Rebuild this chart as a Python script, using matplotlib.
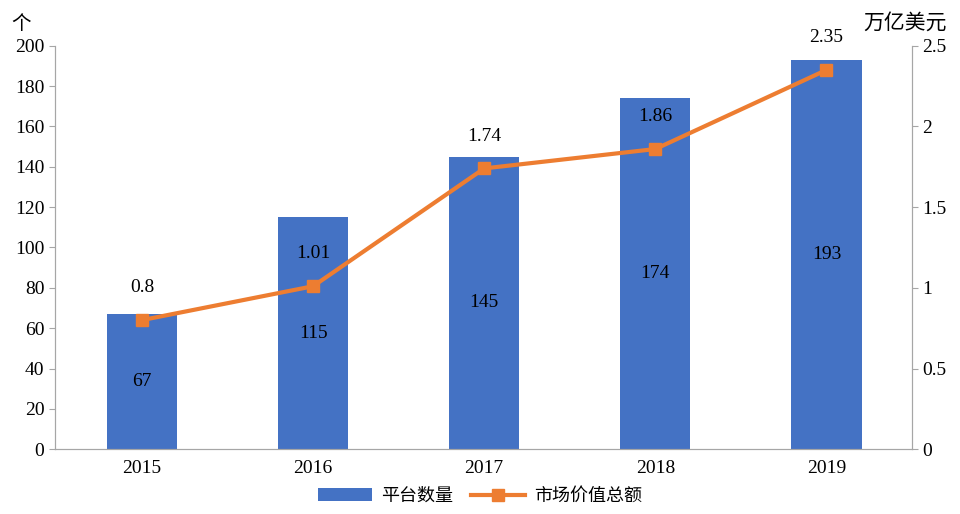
import matplotlib.pyplot as plt
import numpy as np

years = ["2015", "2016", "2017", "2018", "2019"]
platforms = [67, 115, 145, 174, 193]
market_value = [0.8, 1.01, 1.74, 1.86, 2.35]

serif = "Liberation Serif"
cjk = ["Noto Sans CJK SC", "DejaVu Sans"]

fig = plt.figure(figsize=(9.6, 5.14), dpi=100)
ax = fig.add_axes([0.057, 0.126, 0.893, 0.785])
ax2 = ax.twinx()

x = np.arange(len(years))
bars = ax.bar(x, platforms, width=0.41, color="#4472C4", label="平台数量", zorder=2)
line, = ax2.plot(x, market_value, color="#ED7D31", lw=3, marker="s", ms=8,
                 label="市场价值总额", zorder=3)

for xi, v in zip(x, platforms):
    ax.text(xi, v / 2, str(v), ha="center", va="center", fontsize=14, family=serif)
for xi, v in zip(x, market_value):
    ax2.text(xi, v + 0.2, f"{v:g}", ha="center", va="center", fontsize=14, family=serif)

ax.set_xlim(-0.51, 4.5)
ax.set_ylim(0, 200)
ax.set_yticks(range(0, 201, 20))
ax2.set_ylim(0, 2.5)
ax2.set_yticks([0, 0.5, 1, 1.5, 2, 2.5])
ax2.set_yticklabels(["0", "0.5", "1", "1.5", "2", "2.5"])
ax.set_xticks(x)
ax.set_xticklabels(years)

for a in (ax, ax2):
    for lab in a.get_xticklabels() + a.get_yticklabels():
        lab.set_fontfamily(serif)
        lab.set_fontsize(14)
    a.spines["top"].set_visible(False)
    for s in ("left", "right", "bottom"):
        a.spines[s].set_color("#A6A6A6")
    a.tick_params(colors="#A6A6A6", labelcolor="black", length=4)
ax.tick_params(axis="x", length=0, pad=8)

fig.text(0.012, 0.955, "个", family=cjk, fontsize=14, va="center")
fig.text(0.943, 0.955, "万亿美元", family=cjk, fontsize=15, ha="center", va="center")

fig.legend(handles=[bars, line], loc="center", bbox_to_anchor=(0.5, 0.035), ncol=2,
           frameon=False, prop={"family": cjk, "size": 13}, handlelength=3,
           columnspacing=1.0, handletextpad=0.5)

fig.savefig("out.png", dpi=100)
